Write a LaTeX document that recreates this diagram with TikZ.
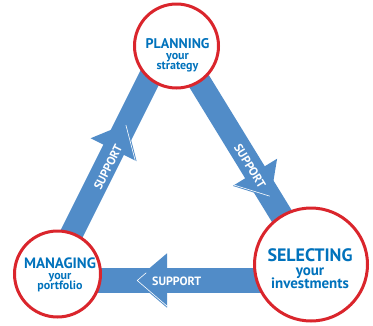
\documentclass[tikz,border=0pt]{standalone}
\usepackage{fontspec}
\setmainfont{PT Sans}
\usetikzlibrary{calc,backgrounds}
\definecolor{bandblue}{RGB}{81,140,200}
\definecolor{textblue}{RGB}{0,114,188}
\definecolor{ringred}{RGB}{218,37,44}
\newcommand{\fs}[1]{\fontsize{#1}{#1}\selectfont}
\begin{document}
\begin{tikzpicture}[x=1pt,y=-1pt,
  ring/.style={circle, draw=ringred, line width=3pt, fill=white, inner sep=0pt},
  title/.style={anchor=base, inner sep=0pt, text=textblue, font=\bfseries},
  bandline/.style={draw=bandblue, line width=#1},
  headfill/.style={fill=bandblue},
  supp/.style={text=white, inner sep=0pt, font=\bfseries\fs{12}},
  glint/.style={draw=white, line width=0.6pt, line join=round, line cap=round}]
\useasboundingbox (0,0) rectangle (373,325);

% circles
\node[ring, minimum size=84pt]  (plan) at (176.5,46) {};
\node[ring, minimum size=113pt] (sel)  at (311,264.5) {};
\node[ring, minimum size=86pt]  (mng)  at (57.5,274) {};

% circle texts
\node[title, font=\bfseries\fs{14}] (p1) at (177.5,48.5) {PLANNING};
\node[title, font=\bfseries\fs{12}] (p2) at (177.5,59.5) {your};
\node[title, font=\bfseries\fs{12}] (p3) at (177.5,69.5) {strategy};

\node[title, font=\bfseries\fs{18}] (s1) at (310,261.7) {SELECTING};
\node[title, font=\bfseries\fs{15}] (s2) at (310,275) {your};
\node[title, font=\bfseries\fs{15}] (s3) at (310,288.3) {investments};

\node[title, font=\bfseries\fs{15}] (m1) at (60,268.3) {MANAGING};
\node[title, font=\bfseries\fs{12}] (m2) at (60,279.5) {your};
\node[title, font=\bfseries\fs{12}] (m3) at (60,289.5) {portfolio};

\begin{pgfonlayer}{background}
  % band end points
  \coordinate (L0) at ($(mng)+(-6,0)$);
  \coordinate (L1) at ($(plan)+(-11,0)$);
  \coordinate (R0) at ($(plan)+(1,0)$);
  \coordinate (R1) at ($(sel)+(0.5,0)$);
  \coordinate (B0) at ($(sel)+(0,16)$);
  \coordinate (B1) at ($(mng)+(0,6.5)$);

  % bands
  \draw[bandline=23pt] (L0) -- (L1);
  \draw[bandline=23pt] (R0) -- (R1);
  \draw[bandline=25pt] (B0) -- (B1);

  % left head
  \coordinate (Lb) at ($(L0)!0.545!(L1)$);
  \coordinate (Lt) at ($(L0)!0.661!(L1)$);
  \coordinate (La) at ($(Lb)!25.7pt!90:(Lt)$);
  \coordinate (Lc) at ($(Lb)!25.7pt!-90:(Lt)$);
  \fill[headfill] (Lt) -- (La) -- (Lc) -- cycle;
  \draw[glint] ($(Lt)!0.07!(Lb)$) -- ($(Lc)!0.06!(Lb)$);

  % right head
  \coordinate (Rb) at ($(R0)!0.578!(R1)$);
  \coordinate (Rt) at ($(R0)!0.695!(R1)$);
  \coordinate (Ra) at ($(Rb)!26pt!90:(Rt)$);
  \coordinate (Rc) at ($(Rb)!26pt!-90:(Rt)$);
  \fill[headfill] (Rt) -- (Ra) -- (Rc) -- cycle;
  \draw[glint] ($(Rt)!0.07!(Rb)$) -- ($(Rc)!0.06!(Rb)$);

  % bottom head
  \coordinate (Bb) at (167,280.5);
  \coordinate (Bt) at (135,280.5);
  \coordinate (Ba) at ($(Bb)!27.2pt!90:(Bt)$);
  \coordinate (Bc) at ($(Bb)!27.2pt!-90:(Bt)$);
  \fill[headfill] (Bt) -- (Ba) -- (Bc) -- cycle;
  \draw[glint] ($($(Bt)!0.07!(Bb)$)!0.3!($(Bc)!0.06!(Bb)$)$) -- ($(Bt)!0.07!(Bb)$) -- ($(Ba)!0.06!(Bb)$);

  % labels
  \node[supp, rotate=63.4]  (lt) at (108,167) {SUPPORT};
  \node[supp, rotate=-58.5] (rt) at (250,166) {SUPPORT};
  \node[supp]               (bt) at (176.7,280.8) {SUPPORT};
\end{pgfonlayer}
\end{tikzpicture}
\end{document}
